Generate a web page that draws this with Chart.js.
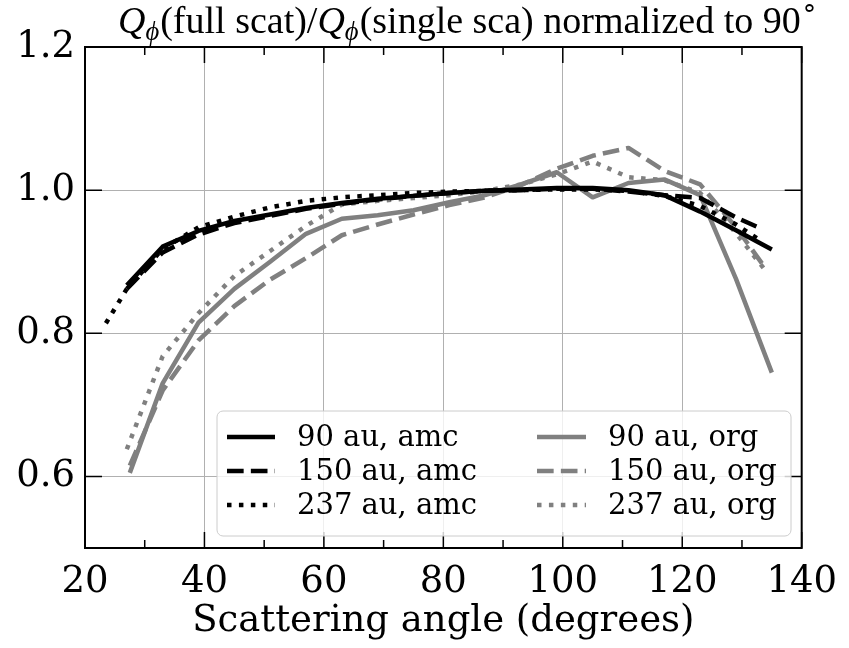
<!DOCTYPE html>
<html>
<head>
<meta charset="utf-8">
<script src="https://cdn.jsdelivr.net/npm/chart.js@4.4.0/dist/chart.umd.min.js"></script>
<style>
  html, body { margin: 0; padding: 0; background: #fff; }
</style>
</head>
<body>
<canvas id="myChart" width="849" height="648"></canvas>
<script>
// scattering angle (degrees) and normalized Q_phi ratio
var amc90X = [27, 33, 39, 45, 51, 57, 63, 69, 75, 81, 87, 93, 99, 105, 111, 117, 123, 129, 135];
var amc90Y = [0.867, 0.921, 0.943, 0.957, 0.966, 0.975, 0.982, 0.988, 0.992, 0.996, 0.999, 1.001, 1.003, 1.003, 1.0, 0.993, 0.970, 0.944, 0.917];

var amc150X = [27, 33, 39, 45, 51, 57, 63, 69, 75, 81, 87, 93, 99, 105, 111, 117, 123, 129, 133];
var amc150Y = [0.862, 0.913, 0.938, 0.954, 0.964, 0.974, 0.981, 0.987, 0.992, 0.996, 0.999, 1.0, 1.002, 1.002, 0.998, 0.993, 0.989, 0.962, 0.947];

var amc237X = [23.5, 27, 33, 39, 45, 51, 57, 63, 69, 75, 81, 87, 93, 99, 105, 111, 117, 123, 129, 133];
var amc237Y = [0.814, 0.862, 0.918, 0.948, 0.963, 0.976, 0.985, 0.990, 0.993, 0.996, 0.998, 0.999, 1.0, 1.001, 1.001, 0.999, 0.992, 0.978, 0.952, 0.930];

var org90X = [27.5, 33, 39, 45, 51, 57, 63, 69, 75, 81, 87, 93, 99, 105, 111, 117, 123, 129, 135];
var org90Y = [0.605, 0.730, 0.815, 0.862, 0.900, 0.939, 0.960, 0.965, 0.972, 0.983, 0.993, 1.008, 1.025, 0.990, 1.010, 1.015, 0.993, 0.876, 0.745];

var org150X = [27.5, 33, 39, 45, 51, 57, 63, 69, 75, 81, 87, 93, 99, 105, 111, 117, 123, 129, 134];
var org150Y = [0.615, 0.720, 0.790, 0.838, 0.875, 0.905, 0.937, 0.952, 0.966, 0.979, 0.990, 1.007, 1.030, 1.048, 1.059, 1.027, 1.008, 0.948, 0.890];

var org237X = [27, 33, 39, 45, 51, 57, 63, 69, 75, 81, 87, 93, 99, 105, 111, 117, 123, 129, 134];
var org237Y = [0.638, 0.768, 0.828, 0.880, 0.915, 0.950, 0.980, 0.985, 0.989, 0.993, 0.999, 1.008, 1.022, 1.040, 1.018, 1.014, 0.996, 0.940, 0.887];

var xTicks = [20, 40, 60, 80, 100, 120, 140];
var xMinorTicks = [30, 50, 70, 90, 110, 130];
var yTicks = [0.6, 0.8, 1.0, 1.2];

function pts(xs, ys) {
  return xs.map(function(x, i) { return { x: x, y: ys[i] }; });
}

var LW = 4.5;
var DASHED = [3.7 * LW, 1.6 * LW];
var DOTTED = [1 * LW, 1.65 * LW];

function series(label, xs, ys, color, dash) {
  return {
    label: label,
    data: pts(xs, ys),
    borderColor: color,
    backgroundColor: color,
    borderWidth: LW,
    borderDash: dash,
    borderJoinStyle: 'round',
    borderCapStyle: 'butt',
    pointRadius: 0,
    fill: false,
    tension: 0
  };
}

var datasets = [
  series('90 au, amc', amc90X, amc90Y, '#000000', []),
  series('150 au, amc', amc150X, amc150Y, '#000000', DASHED),
  series('237 au, amc', amc237X, amc237Y, '#000000', DOTTED),
  series('90 au, org', org90X, org90Y, '#808080', []),
  series('150 au, org', org150X, org150Y, '#808080', DASHED),
  series('237 au, org', org237X, org237Y, '#808080', DOTTED)
];

// spines, inward ticks, legend and title drawn on top
var framePlugin = {
  id: 'frame',
  afterDatasetsDraw: function(chart) {
    var ctx = chart.ctx, a = chart.chartArea;
    var xs = chart.scales.x, ys = chart.scales.y;
    ctx.save();

    // ticks on all four sides
    ctx.strokeStyle = '#000';
    ctx.lineWidth = 1.5;
    ctx.beginPath();
    xTicks.forEach(function(v) {
      var p = xs.getPixelForValue(v);
      ctx.moveTo(p, a.bottom); ctx.lineTo(p, a.bottom - 16);
      ctx.moveTo(p, a.top); ctx.lineTo(p, a.top + 16);
    });
    xMinorTicks.forEach(function(v) {
      var p = xs.getPixelForValue(v);
      ctx.moveTo(p, a.bottom); ctx.lineTo(p, a.bottom - 8);
      ctx.moveTo(p, a.top); ctx.lineTo(p, a.top + 8);
    });
    yTicks.forEach(function(v) {
      var p = ys.getPixelForValue(v);
      ctx.moveTo(a.left, p); ctx.lineTo(a.left + 17, p);
      ctx.moveTo(a.right, p); ctx.lineTo(a.right - 17, p);
    });
    ctx.stroke();

    ctx.lineWidth = 2;
    ctx.strokeRect(a.left, a.top, a.right - a.left, a.bottom - a.top);

    // legend, two columns
    var bx = 217, by = 411, bw = 574, bh = 125;
    ctx.beginPath();
    ctx.roundRect(bx, by, bw, bh, 6);
    ctx.fillStyle = 'rgba(255,255,255,0.8)';
    ctx.fill();
    ctx.lineWidth = 1;
    ctx.strokeStyle = '#cccccc';
    ctx.stroke();

    var rows = [437, 471, 505];
    var cols = [{ l0: 227, l1: 275, t: 297 }, { l0: 537, l1: 586, t: 608 }];
    ctx.font = '29px "DejaVu Serif"';
    ctx.textBaseline = 'middle';
    ctx.textAlign = 'left';
    chart.data.datasets.forEach(function(ds, i) {
      var c = cols[Math.floor(i / 3)], y = rows[i % 3];
      ctx.beginPath();
      ctx.setLineDash(ds.borderDash);
      ctx.lineWidth = ds.borderWidth;
      ctx.strokeStyle = ds.borderColor;
      ctx.lineCap = 'butt';
      ctx.moveTo(c.l0, y); ctx.lineTo(c.l1, y);
      ctx.stroke();
      ctx.setLineDash([]);
      ctx.fillStyle = '#000';
      ctx.fillText(ds.label, c.t, y + 1);
    });

    // title with math parts
    var fs = 38;
    var parts = [
      { t: 'Q', it: true },
      { t: '\u03d5', it: true, sub: true },
      { t: '(full scat)/' },
      { t: 'Q', it: true },
      { t: '\u03d5', it: true, sub: true },
      { t: '(single sca) normalized to 90' },
      { t: '\u2218', sup: true }
    ];
    var x = 118, base = 33;
    ctx.textBaseline = 'alphabetic';
    ctx.fillStyle = '#000';
    parts.forEach(function(p) {
      var size = (p.sub || p.sup) ? fs * 0.7 : fs;
      ctx.font = (p.it ? 'italic ' : '') + size + 'px "Liberation Serif"';
      var dy = p.sub ? 7 : (p.sup ? -16 : 0);
      ctx.fillText(p.t, x, base + dy);
      x += ctx.measureText(p.t).width + (p.sub ? 1 : 0);
    });

    ctx.restore();
  }
};

var config = {
  type: 'line',
  data: { datasets: datasets },
  options: {
    responsive: false,
    animation: false,
    layout: { padding: { top: 47, right: 43, left: 0, bottom: 0 } },
    plugins: {
      legend: { display: false },
      title: { display: false },
      tooltip: { enabled: false }
    },
    scales: {
      x: {
        type: 'linear',
        min: 20,
        max: 140,
        afterBuildTicks: function(scale) {
          scale.ticks = xTicks.map(function(v) { return { value: v }; });
        },
        afterFit: function(scale) { scale.height = 100; },
        grid: { color: '#b0b0b0', lineWidth: 1, drawTicks: false },
        border: { display: false },
        ticks: {
          autoSkip: false,
          maxRotation: 0,
          padding: 12,
          color: '#000',
          font: { family: 'DejaVu Serif', size: 37 }
        },
        title: {
          display: true,
          text: 'Scattering angle (degrees)',
          color: '#000',
          font: { family: 'DejaVu Serif', size: 37 },
          padding: { top: 0, bottom: 4 }
        }
      },
      y: {
        type: 'linear',
        min: 0.5,
        max: 1.2,
        afterBuildTicks: function(scale) {
          scale.ticks = yTicks.map(function(v) { return { value: v }; });
        },
        afterFit: function(scale) { scale.width = 85; },
        grid: { color: '#b0b0b0', lineWidth: 1, drawTicks: false },
        border: { display: false },
        ticks: {
          autoSkip: false,
          padding: 10,
          color: '#000',
          font: { family: 'DejaVu Serif', size: 37 },
          callback: function(v) { return v.toFixed(1); }
        }
      }
    }
  },
  plugins: [framePlugin]
};

var ctx = document.getElementById('myChart').getContext('2d');
var myChart = new Chart(ctx, config);
</script>
</body>
</html>
